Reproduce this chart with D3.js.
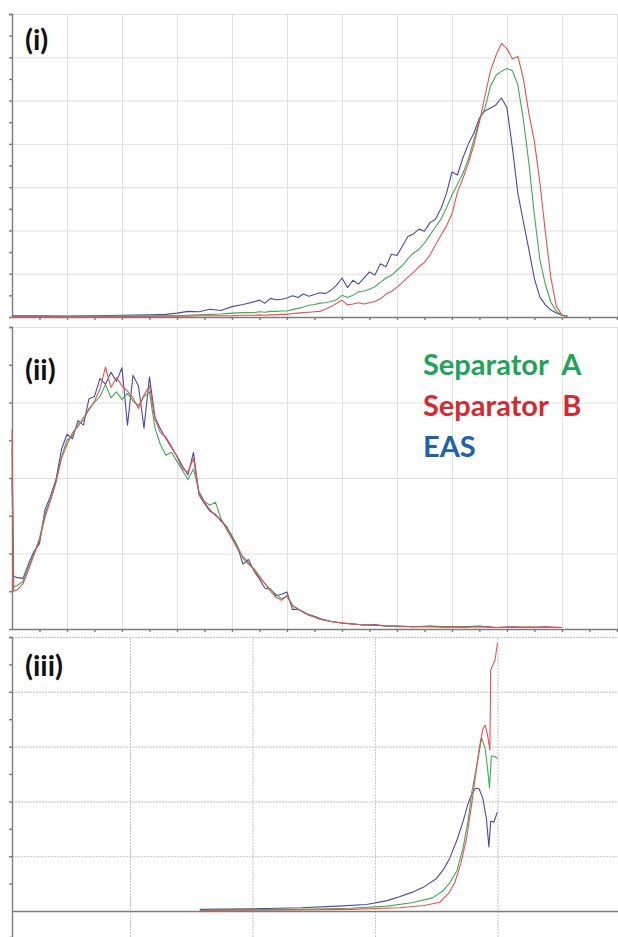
<!DOCTYPE html>
<html>
<head>
<meta charset="utf-8">
<script src="https://d3js.org/d3.v7.min.js"></script>
<style>
  body { margin: 0; background: #fff; }
  svg { display: block; }
  .grid line { stroke: #e0e0e0; stroke-width: 1; }
  .grid path { display: none; }
  .grid3 line { stroke: #c4c4c4; stroke-width: 1; stroke-dasharray: 2,1; }
  .grid3 path { display: none; }
  .ax path, .ax line { stroke: #7c7c7c; stroke-width: 1.4; }
  .trace { fill: none; stroke-width: 1.1; stroke-linejoin: round; }
  .plabel { font-family: Lato, "Open Sans", sans-serif; font-weight: 700; font-size: 29px; fill: #111; }
  .legend { font-family: Lato, "Open Sans", sans-serif; font-weight: 700; font-size: 29px; }
</style>
</head>
<body>
<div id="chart"></div>
<script>
// ---- panel (i) ----
var xI = [0, 5, 10, 15, 20, 25, 28, 30, 32, 34, 36, 38, 40, 42, 44,
  45, 46, 47, 48, 49, 50, 51, 52, 53, 54, 55, 56, 57, 58, 59, 60, 61, 62, 63, 64,
  65, 66, 67, 68, 69, 70, 71, 72, 73, 74, 75, 76, 77, 78, 79, 80, 81, 82, 83, 84,
  85, 86, 87, 88, 89, 90, 91, 92, 93, 94, 95, 96, 97, 98, 99, 100, 101];
var iSepA = [0.1, 0.1, 0.1, 0.2, 0.2, 0.2, 0.3, 0.3, 0.4, 0.5, 0.6, 0.7, 0.9, 1.0, 1.0,
  1.2, 1.1, 1.3, 1.3, 1.4, 1.4, 1.7, 2.0, 2.3, 2.7, 2.9, 3.2, 3.3, 3.6, 4.0, 5.0, 4.5, 5.0, 5.8, 6.0,
  6.4, 7.0, 8.0, 9.0, 9.6, 10.8, 11.9, 13.5, 14.8, 15.6, 17.1, 18.9, 20.8, 22.6, 25.2, 28.2, 30.6, 33.2, 36.5, 41.0,
  45.5, 48.2, 53.3, 55.8, 56.8, 57.4, 56.9, 53.5, 45.5, 35.5, 23.5, 13.2, 7.5, 3.4, 1.3, 0.4, 0.1];
var iSepB = [0.1, 0.1, 0.1, 0.1, 0.1, 0.1, 0.2, 0.2, 0.2, 0.3, 0.3, 0.3, 0.3, 0.4, 0.4,
  0.5, 0.4, 0.5, 0.5, 0.6, 0.6, 0.8, 0.9, 1.0, 1.1, 1.2, 1.3, 1.8, 2.4, 3.1, 3.9, 2.8, 3.0, 3.3, 3.0,
  3.3, 3.6, 4.2, 5.3, 5.9, 6.9, 8.0, 9.2, 10.3, 11.6, 12.6, 14.3, 16.6, 18.9, 21.0, 23.8, 28.8, 32.0, 35.6, 39.8,
  45.0, 51.0, 56.8, 60.4, 63.2, 62.0, 59.6, 60.2, 55.0, 47.0, 40.5, 31.0, 19.5, 9.0, 2.4, 0.5, 0.1];
var iEAS = [0.3, 0.3, 0.2, 0.3, 0.4, 0.5, 0.6, 0.9, 1.3, 1.2, 1.8, 1.5, 2.4, 2.9, 3.5,
  3.9, 3.2, 4.3, 4.0, 4.1, 4.4, 4.9, 4.5, 5.3, 4.8, 5.2, 5.6, 5.4, 6.2, 7.3, 9.0, 6.8, 8.5, 7.6, 9.0,
  10.4, 9.7, 12.3, 11.6, 14.5, 14.2, 16.4, 18.6, 19.2, 20.3, 19.8, 21.8, 22.6, 25.0, 28.5, 33.5, 32.8, 36.8, 40.0, 42.5,
  46.0, 47.6, 48.3, 49.0, 50.6, 48.4, 39.0, 28.5, 22.0, 15.5, 8.8, 4.6, 2.8, 1.6, 0.9, 0.4, 0.2];

// ---- panel (ii) ----
var xII = [0, 0.3, 1, 2, 3, 4, 5, 6, 7, 8, 9, 10, 11, 12, 13, 14, 15, 16, 17, 18, 19, 20,
  21, 22, 23, 24, 25, 26, 27, 28, 29, 30, 31, 32, 33, 34, 35, 36, 37, 38, 39, 40,
  41, 42, 43, 44, 45, 46, 47, 48, 49, 50, 51, 52, 53, 54, 55, 56, 58, 60, 62, 64, 66, 68,
  70, 73, 76, 79, 82, 85, 88, 91, 94, 97, 100];
var iiSepA = [24, 5.6, 5.8, 6.3, 8.2, 10.0, 12.0, 15.2, 17.2, 19.6, 22.8, 25.0, 25.6, 27.2, 27.6, 29.2, 30.0, 30.8, 32.4, 30.6, 31.4, 30.4,
  31.2, 30.2, 29.6, 30.8, 31.4, 26.6, 24.4, 23.0, 23.4, 22.2, 21.0, 19.8, 21.2, 18.2, 16.9, 16.4, 16.8, 14.6, 13.4, 12.4,
  11.0, 9.4, 8.6, 8.0, 7.0, 6.0, 5.2, 4.6, 4.0, 4.4, 3.0, 2.7, 2.3, 1.9, 1.6, 1.3, 1.0, 0.8, 0.7, 0.5, 0.5, 0.4,
  0.3, 0.3, 0.3, 0.3, 0.2, 0.3, 0.2, 0.2, 0.2, 0.2, 0.2];
var iiSepB = [26.4, 5.0, 5.2, 6.0, 7.8, 9.8, 11.8, 14.8, 17.0, 19.4, 22.6, 24.4, 26.0, 26.8, 28.0, 29.0, 30.2, 31.8, 34.7, 32.0, 33.3, 32.2,
  31.5, 30.6, 29.2, 31.0, 32.2, 27.8, 26.0, 25.4, 24.2, 22.8, 21.2, 20.8, 22.6, 18.0, 16.8, 15.8, 15.0, 14.5, 13.2, 12.0,
  10.6, 9.6, 8.8, 7.8, 6.8, 6.0, 5.0, 4.2, 3.8, 4.4, 3.2, 2.6, 2.2, 1.8, 1.6, 1.3, 1.0, 0.8, 0.6, 0.6, 0.5, 0.4,
  0.4, 0.3, 0.3, 0.2, 0.3, 0.3, 0.2, 0.2, 0.3, 0.2, 0.2];
var iiEAS = [20, 7.0, 6.8, 6.7, 8.6, 10.3, 11.3, 15.8, 17.6, 19.8, 23.8, 25.8, 25.2, 27.6, 27.0, 30.5, 30.8, 33.2, 32.4, 34.0, 32.8, 34.6,
  27.0, 33.6, 32.2, 26.6, 33.4, 28.0, 26.5, 25.2, 24.0, 22.9, 21.6, 20.4, 23.4, 17.8, 16.6, 15.6, 15.2, 14.3, 13.6, 12.2,
  10.9, 8.6, 9.2, 7.7, 6.6, 5.4, 5.3, 4.4, 4.6, 4.9, 2.6, 2.6, 2.2, 1.9, 1.7, 1.4, 1.0, 0.8, 0.7, 0.5, 0.6, 0.4,
  0.4, 0.3, 0.4, 0.3, 0.3, 0.4, 0.2, 0.3, 0.2, 0.3, 0.2];

// ---- panel (iii) ----
var xIIIa = [15.7, 24, 28, 31, 33, 34.7, 35.5, 36.1, 36.7, 37.2, 37.6, 37.9, 38.3, 38.7, 39.0, 39.2, 39.35, 39.5, 39.8, 40.0];
var iiiSepA = [0.2, 0.3, 0.5, 0.9, 1.5, 2.4, 3.6, 5.1, 7.4, 11.6, 16.4, 21.6, 26.4, 31.6, 29.6, 25.8, 22.4, 28.3, 28.2, 27.8];
var xIIIb = [15.7, 24, 28, 32, 34, 35.3, 36, 36.5, 37, 37.5, 37.9, 38.2, 38.5, 38.8, 39.0, 39.2, 39.38, 39.45, 39.8, 40.0];
var iiiSepB = [0.1, 0.2, 0.3, 0.6, 1.0, 1.6, 3.2, 5.1, 8.6, 13.5, 19.6, 24.6, 29.5, 33.2, 33.9, 32.0, 29.4, 44.0, 45.8, 48.9];
var xIIIe = [15.7, 20, 24, 27, 29.3, 31, 32, 33, 34, 35, 35.6, 36.1, 36.7, 37.2, 37.6, 37.9, 38.2, 38.5, 38.8, 39.1, 39.3, 39.45, 39.7, 40.0];
var iiiEAS = [0.3, 0.4, 0.6, 0.9, 1.2, 1.9, 2.6, 3.4, 4.4, 5.9, 7.6, 9.6, 13.0, 16.4, 19.6, 21.3, 22.4, 22.3, 20.6, 16.8, 11.7, 16.4, 16.2, 18.1];

var seriesNames = ["Separator A", "Separator B", "EAS"];
var lineColors = ["#3fab52", "#e6524f", "#4a4aa6"];
var legendColors = ["#22a35a", "#d42a33", "#1f64a8"];

var W = 618, H = 937, L = 12, R = 618;

var svg = d3.select("#chart").append("svg").attr("width", W).attr("height", H);

var panels = [
  { label: "(i)", top: 14, bottom: 317, xDomain: [0, 110.2], yDomain: [0, 70],
    xs: [xI, xI, xI], ys: [iSepA, iSepB, iEAS], labelY: 50 },
  { label: "(ii)", top: 327, bottom: 629, xDomain: [0, 110.2], yDomain: [0, 40],
    xs: [xII, xII, xII], ys: [iiSepA, iiSepB, iiEAS], labelY: 380 },
  { label: "(iii)", top: 637, bottom: 937, xDomain: [0.37, 49.84], yDomain: [-4.74, 50],
    xs: [xIIIa, xIIIb, xIIIe], ys: [iiiSepA, iiiSepB, iiiEAS], labelY: 676, dotted: true }
];

panels.forEach(function(p) {
  var g = svg.append("g");
  var x = d3.scaleLinear().domain(p.xDomain).range([L, R]);
  var y = d3.scaleLinear().domain(p.yDomain).range([p.bottom, p.top]);
  var xMajor = d3.range(Math.ceil(p.xDomain[0] / 10) * 10, p.xDomain[1], 10).filter(function(v) { return x(v) > L + 2; });
  var yMajor = d3.range(10, p.yDomain[1] + 0.01, 10);
  var gridClass = p.dotted ? "grid3" : "grid";

  // vertical grid
  g.append("g").attr("class", gridClass)
    .attr("transform", "translate(0," + p.bottom + ")")
    .call(d3.axisBottom(x).tickValues(xMajor).tickSize(-(p.bottom - p.top)).tickFormat(""));
  // horizontal grid
  g.append("g").attr("class", gridClass)
    .attr("transform", "translate(" + L + ",0)")
    .call(d3.axisLeft(y).tickValues(yMajor).tickSize(-(R - L)).tickFormat(""));

  // y axis with minor ticks every 5
  var yTicks = d3.range(5, p.yDomain[1] + 0.01, 5);
  g.append("g").attr("class", "ax")
    .attr("transform", "translate(" + L + ",0)")
    .call(d3.axisLeft(y).tickValues(yTicks).tickSize(3).tickFormat(""));

  // x axis (zero line)
  var xTicks = p.dotted ? [] : d3.range(5, p.xDomain[1], 5);
  g.append("g").attr("class", "ax")
    .attr("transform", "translate(0," + y(0) + ")")
    .call(d3.axisBottom(x).tickValues(xTicks).tickSize(3).tickSizeOuter(0).tickFormat(""));

  // traces (EAS drawn first, then A, then B like the original overlay)
  [2, 0, 1].forEach(function(k) {
    var pts = p.xs[k].map(function(v, i) { return [v, p.ys[k][i]]; });
    g.append("path")
      .attr("class", "trace")
      .attr("stroke", lineColors[k])
      .attr("d", d3.line().x(function(d) { return x(d[0]); }).y(function(d) { return y(d[1]); })(pts));
  });

  g.append("text").attr("class", "plabel")
    .attr("x", 25).attr("y", p.labelY).text(p.label);
});

// legend (sits in panel ii)
var legendText = ["Separator  A", "Separator  B", "EAS"];
svg.append("g").selectAll("text")
  .data(seriesNames)
  .join("text")
  .attr("class", "legend")
  .attr("x", 423)
  .attr("y", function(d, i) { return 375 + i * 41; })
  .attr("fill", function(d, i) { return legendColors[i]; })
  .style("white-space", "pre")
  .attr("xml:space", "preserve")
  .text(function(d, i) { return legendText[i]; });
</script>
</body>
</html>
